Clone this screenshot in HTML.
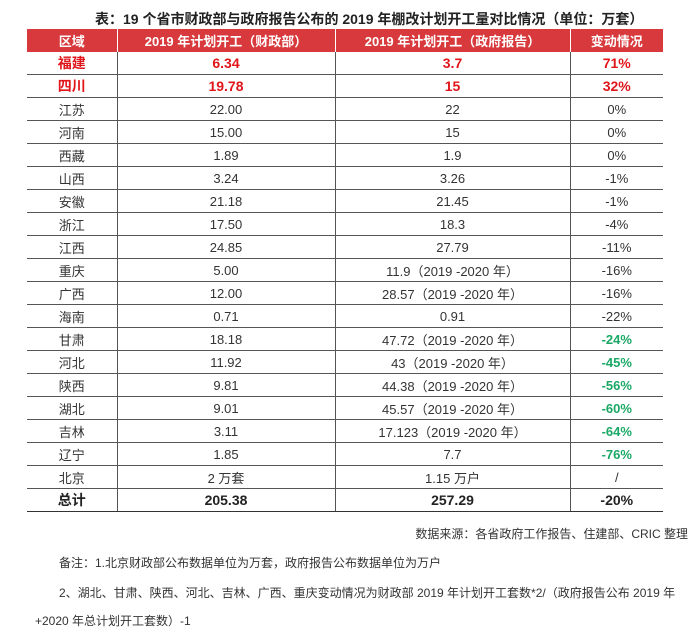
<!DOCTYPE html>
<html><head><meta charset="utf-8"><style>
body{margin:0;width:700px;height:638px;background:#fff;font-family:"Liberation Sans","Noto Sans CJK SC",sans-serif;color:#333;position:relative;overflow:hidden}
.t{position:absolute;left:95px;top:9px;font-size:14px;font-weight:bold;color:#222;white-space:nowrap}
table{position:absolute;left:27px;top:29px;border-collapse:collapse;width:636px;font-size:13px}
td{height:22px;text-align:center;border-bottom:1px solid #555;border-left:1px solid #555;padding:0}
td:first-child{border-left:none}
tr.h td{background:#d8393c;color:#fff;font-weight:bold;height:23px;border-left:1px solid #fff;border-bottom:none}
tr.h td:first-child{border-left:none}
tr.r td{color:#e0161b;font-weight:bold;font-size:14px}
.g{color:#1aa866;font-weight:bold}
tr.tot td{font-weight:bold;font-size:14px;color:#222;border-bottom:1.5px solid #333}
.n{position:absolute;font-size:12px;color:#333;white-space:nowrap}
</style></head><body>
<div class="t">表：19 个省市财政部与政府报告公布的 2019 年棚改计划开工量对比情况（单位：万套）</div>
<table>
<colgroup><col style="width:90px"><col style="width:218px"><col style="width:235px"><col style="width:93px"></colgroup>
<tr class="h"><td>区域</td><td>2019 年计划开工（财政部）</td><td>2019 年计划开工（政府报告）</td><td>变动情况</td></tr>
<tr class="r"><td>福建</td><td>6.34</td><td>3.7</td><td>71%</td></tr>
<tr class="r"><td>四川</td><td>19.78</td><td>15</td><td>32%</td></tr>
<tr><td>江苏</td><td>22.00</td><td>22</td><td>0%</td></tr>
<tr><td>河南</td><td>15.00</td><td>15</td><td>0%</td></tr>
<tr><td>西藏</td><td>1.89</td><td>1.9</td><td>0%</td></tr>
<tr><td>山西</td><td>3.24</td><td>3.26</td><td>-1%</td></tr>
<tr><td>安徽</td><td>21.18</td><td>21.45</td><td>-1%</td></tr>
<tr><td>浙江</td><td>17.50</td><td>18.3</td><td>-4%</td></tr>
<tr><td>江西</td><td>24.85</td><td>27.79</td><td>-11%</td></tr>
<tr><td>重庆</td><td>5.00</td><td>11.9（2019 -2020 年）</td><td>-16%</td></tr>
<tr><td>广西</td><td>12.00</td><td>28.57（2019 -2020 年）</td><td>-16%</td></tr>
<tr><td>海南</td><td>0.71</td><td>0.91</td><td>-22%</td></tr>
<tr><td>甘肃</td><td>18.18</td><td>47.72（2019 -2020 年）</td><td class="g">-24%</td></tr>
<tr><td>河北</td><td>11.92</td><td>43（2019 -2020 年）</td><td class="g">-45%</td></tr>
<tr><td>陕西</td><td>9.81</td><td>44.38（2019 -2020 年）</td><td class="g">-56%</td></tr>
<tr><td>湖北</td><td>9.01</td><td>45.57（2019 -2020 年）</td><td class="g">-60%</td></tr>
<tr><td>吉林</td><td>3.11</td><td>17.123（2019 -2020 年）</td><td class="g">-64%</td></tr>
<tr><td>辽宁</td><td>1.85</td><td>7.7</td><td class="g">-76%</td></tr>
<tr><td>北京</td><td>2 万套</td><td>1.15 万户</td><td>/</td></tr>
<tr class="tot"><td>总计</td><td>205.38</td><td>257.29</td><td>-20%</td></tr>
</table>
<div class="n" style="right:12px;top:525px">数据来源：各省政府工作报告、住建部、CRIC 整理</div>
<div class="n" style="left:59px;top:554px">备注：1.北京财政部公布数据单位为万套，政府报告公布数据单位为万户</div>
<div class="n" style="left:59px;top:584px">2、湖北、甘肃、陕西、河北、吉林、广西、重庆变动情况为财政部 2019 年计划开工套数*2/（政府报告公布 2019 年</div>
<div class="n" style="left:35px;top:612px">+2020 年总计划开工套数）-1</div>
</body></html>
